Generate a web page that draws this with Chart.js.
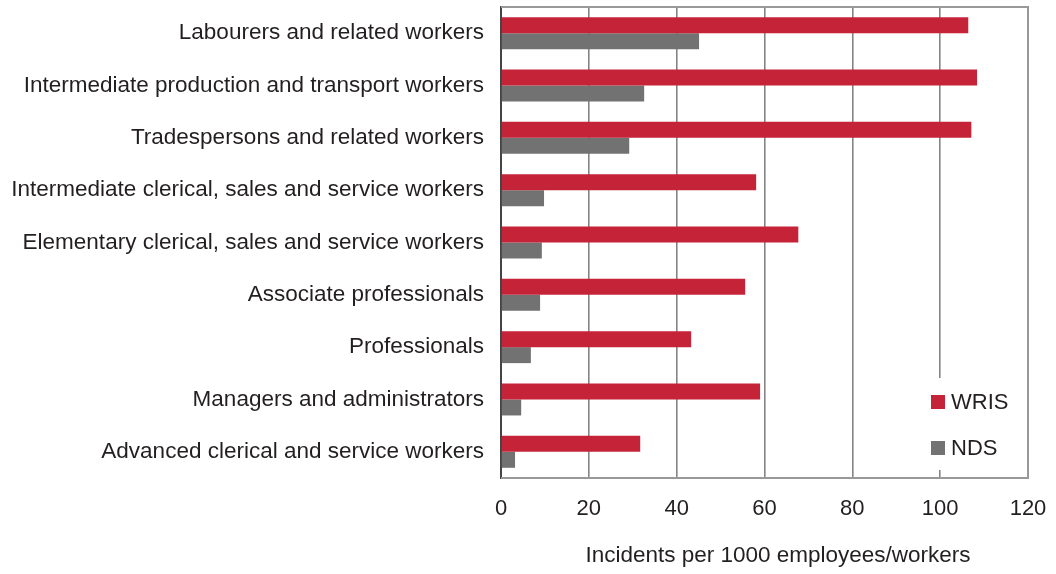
<!DOCTYPE html>
<html>
<head>
<meta charset="utf-8">
<script src="https://cdn.jsdelivr.net/npm/chart.js@4"></script>
<style>
  html, body { margin: 0; padding: 0; background: #fff; }
  #wrap { width: 1056px; height: 574px; }
</style>
</head>
<body>
<div id="wrap"><canvas id="chart" width="1056" height="574"></canvas></div>
<script>
const occupations = [
  'Labourers and related workers',
  'Intermediate production and transport workers',
  'Tradespersons and related workers',
  'Intermediate clerical, sales and service workers',
  'Elementary clerical, sales and service workers',
  'Associate professionals',
  'Professionals',
  'Managers and administrators',
  'Advanced clerical and service workers'
];
const wris = [106.4, 108.4, 107.1, 58.1, 67.7, 55.6, 43.3, 59.0, 31.7];
const nds = [45.1, 32.6, 29.2, 9.8, 9.3, 8.9, 6.8, 4.6, 3.2];
const xTicks = [0, 20, 40, 60, 80, 100, 120];
const xTitle = 'Incidents per 1000 employees/workers';

const textColor = '#231f20';
const fontFamily = '"Liberation Sans", Arial, Helvetica, sans-serif';

// frame round the plot, legend box inside it, axis title (sits a bit right of centre)
const framePlugin = {
  id: 'framePlugin',
  afterDatasetsDraw(chart) {
    const ctx = chart.ctx;
    const a = chart.chartArea;
    ctx.save();
    ctx.strokeStyle = '#999';
    ctx.lineWidth = 2;
    ctx.beginPath();
    ctx.moveTo(a.left, a.top);
    ctx.lineTo(a.right, a.top);
    ctx.lineTo(a.right, a.bottom);
    ctx.lineTo(a.left, a.bottom);
    ctx.stroke();

    // legend
    const bx = 924, by = 378, bw = 102, bh = 92;
    ctx.fillStyle = '#fff';
    ctx.fillRect(bx, by, bw, bh);
    const items = chart.data.datasets;
    ctx.font = '22px ' + fontFamily;
    ctx.textBaseline = 'middle';
    ctx.textAlign = 'left';
    items.forEach((ds, i) => {
      const y = 402 + i * 46;
      ctx.fillStyle = ds.backgroundColor;
      ctx.fillRect(931, y - 7, 14, 14);
      ctx.fillStyle = textColor;
      ctx.fillText(ds.label, 951, y + 1);
    });

    // x axis title
    ctx.font = '22.5px ' + fontFamily;
    ctx.textAlign = 'center';
    ctx.fillStyle = textColor;
    ctx.fillText(xTitle, 778, 556);
    ctx.restore();
  }
};

new Chart(document.getElementById('chart'), {
  type: 'bar',
  data: {
    labels: occupations,
    datasets: [
      { label: 'WRIS', data: wris, backgroundColor: '#c42338' },
      { label: 'NDS', data: nds, backgroundColor: '#727272' }
    ]
  },
  options: {
    indexAxis: 'y',
    responsive: false,
    animation: false,
    devicePixelRatio: 1,
    layout: { padding: { top: 7, right: 28, left: 0, bottom: 0 } },
    datasets: { bar: { categoryPercentage: 0.61, barPercentage: 1 } },
    plugins: {
      legend: { display: false },
      tooltip: { enabled: false }
    },
    scales: {
      x: {
        min: 0,
        max: 120,
        afterBuildTicks(scale) {
          scale.ticks = xTicks.map(v => ({ value: v }));
        },
        afterFit(scale) {
          scale.height = 96;
          scale.paddingLeft = 0;
          scale.paddingRight = 0;
        },
        grid: { color: '#858585', lineWidth: 1.6, drawTicks: false },
        border: { display: false },
        ticks: {
          padding: 18,
          color: textColor,
          font: { family: fontFamily, size: 22 }
        }
      },
      y: {
        afterFit(scale) {
          scale.width = 501;
          scale.paddingTop = 0;
          scale.paddingBottom = 0;
        },
        grid: { display: false, drawTicks: false },
        border: { display: true, color: '#444', width: 2 },
        ticks: {
          padding: 17,
          color: textColor,
          font: { family: fontFamily, size: 22.5 }
        }
      }
    }
  },
  plugins: [framePlugin]
});
</script>
</body>
</html>
